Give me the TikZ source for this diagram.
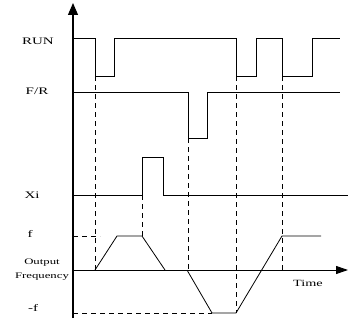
\documentclass[tikz,border=0pt]{standalone}
\usepackage{fontspec}
\setmainfont{Liberation Serif}
\usetikzlibrary{arrows.meta}
\newcommand{\widetxt}[1]{\scalebox{1.5}[1]{#1}}

\begin{document}
\begin{tikzpicture}[x=1pt,y=-1pt,
  sig/.style={line width=.8pt},
  guide/.style={line width=.8pt,dash pattern=on 5pt off 4pt},
  lbl/.style={inner sep=0pt,font=\fontsize{10}{12}\selectfont}]
  \useasboundingbox (0,0) rectangle (348,321);
  % axes
  \draw[line width=1.2pt,-{Triangle[length=12pt,width=10pt]}] (73,318) -- (73,3);
  \draw[line width=1pt,-{Triangle[length=12pt,width=8pt]}] (73,270) -- (348,270);
  % RUN
  \draw[sig] (73,38) -- (95,38) -- (95,76) -- (114,76) -- (114,38) -- (236,38)
    -- (236,76) -- (256,76) -- (256,38) -- (282,38) -- (282,76) -- (312,76)
    -- (312,38) -- (340,38);
  % F/R
  \draw[sig] (73,92) -- (188,92) -- (188,138) -- (207,138) -- (207,92) -- (340,92);
  % Xi
  \draw[sig] (73,195) -- (142,195) -- (142,157) -- (163,157) -- (163,195) -- (348,195);
  % output frequency
  \draw[sig] (95,270) -- (117,236) -- (142,236) -- (165,270);
  \draw[sig] (187,270) -- (212,313) -- (236,313) -- (282,236) -- (321,236);
  % guides
  \draw[guide] (95,76) -- (95,270);
  \draw[guide] (142,195) -- (142,236);
  \draw[guide] (188,138) -- (188,270);
  \draw[guide] (236,76) -- (236,313);
  \draw[guide] (282,76) -- (282,270);
  \draw[guide] (73,236) -- (100,236);
  \draw[guide] (73,313) -- (212,313);
  % labels
  \node[lbl] (run) at (38,41) {\widetxt{RUN}};
  \node[lbl] (fr) at (37,91) {\widetxt{F/R}};
  \node[lbl] (xi) at (32,195) {\widetxt{Xi}};
  \node[lbl] (fpos) at (30,234) {\widetxt{f}};
  \node[lbl,align=center,font=\fontsize{8.5}{14}\selectfont] (outf) at (42,270)
    {\widetxt{Output}\\\widetxt{Frequency}};
  \node[lbl] (fneg) at (33,308) {\widetxt{-f}};
  \node[lbl,font=\fontsize{9.5}{12}\selectfont] (time) at (308,283) {\widetxt{Time}};
\end{tikzpicture}
\end{document}
